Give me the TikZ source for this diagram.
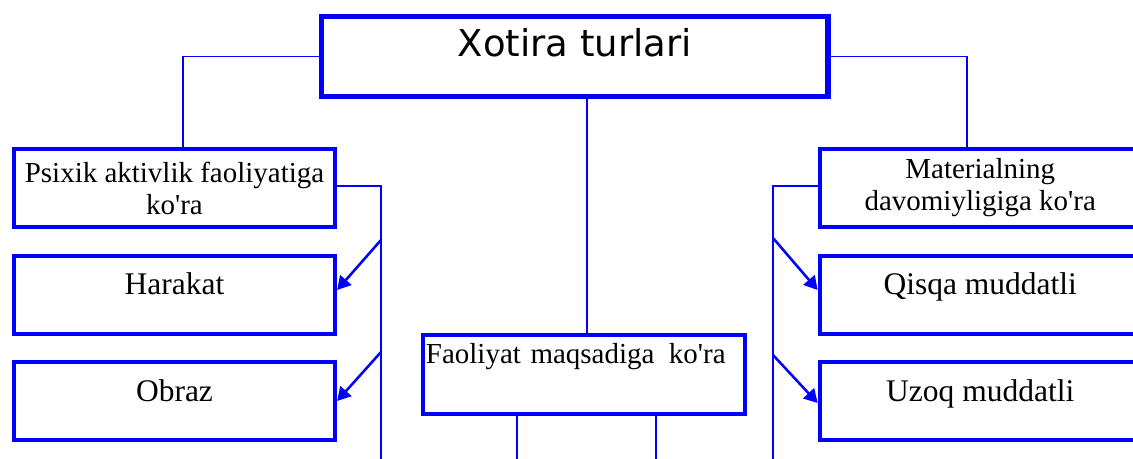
\documentclass[tikz,border=0pt]{standalone}
\usepackage{fontspec}
\setmainfont{Liberation Serif}
\newfontfamily\sarlavhafont{DejaVu Sans}
\usepackage{tikz}
\usetikzlibrary{arrows.meta}
\definecolor{kok}{RGB}{0,0,255}

\begin{document}
\begin{tikzpicture}[x=0.025cm, y=-0.025cm,
  quti/.style={draw=kok, line width=2.8pt, minimum width=8.03cm, minimum height=1.96cm},
  bitta/.style={quti, font=\fontsize{22.4}{26}\selectfont, text height=0.45cm, text depth=0.45cm},
  ikki/.style={quti, font=\fontsize{20.6}{22.8}\selectfont, align=center},
  ulanish/.style={draw=kok, line width=1.4pt},
  strelka/.style={draw=kok, line width=1.8pt, -{Triangle[length=9.5pt,width=10.5pt]}}]
  \useasboundingbox (0,0) rectangle (1133,459);
  \clip (0,0) rectangle (1133,459);

  % Bosh quti
  \node[draw=kok, line width=4pt, minimum width=12.66cm, minimum height=2cm,
        font=\sarlavhafont\fontsize{26.3}{30}\selectfont, text height=0.5cm, text depth=0.5cm]
        (xotira) at (574.75,56.5) {Xotira turlari};

  % Chap ustun
  \node[ikki] (psixik) at (174.5,188) {Psixik aktivlik faoliyatiga\\ko\textquotesingle ra};
  \node[bitta] (harakat) at (174.5,295) {Harakat};
  \node[bitta] (obraz) at (174.5,401) {Obraz};

  % O'rta quti
  \node[quti, font=\fontsize{20.6}{22.8}\selectfont, align=left, text width=7.9cm, inner xsep=0.075cm,
        text height=0.5cm, text depth=1.03cm]
        (faoliyat) at (584,374.5) {Faoliyat maqsadiga\hspace{0.5em}ko\textquotesingle ra};

  % O'ng ustun
  \node[ikki] (material) at (980.25,188) {Materialning\\davomiyligiga ko\textquotesingle ra};
  \node[bitta] (qisqa) at (980.25,295) {Qisqa muddatli};
  \node[bitta] (uzoq) at (980.25,401) {Uzoq muddatli};

  % Bosh qutidan chiqadigan chiziqlar
  \draw[ulanish] (xotira.west) -| ([xshift=0.21cm]psixik.north);
  \draw[ulanish] (xotira.east) -| ([xshift=-0.33cm]material.north);
  \draw[ulanish] ([xshift=0.08cm]faoliyat.north) -- ([xshift=0.08cm]faoliyat.north |- xotira.south);

  % Chap qavs va strelkalar
  \coordinate (chappast) at (381,470);
  \coordinate (c1) at (381,240);
  \coordinate (c2) at (381,352);
  \draw[ulanish] ([yshift=0.06cm]psixik.east) -| (chappast);
  \draw[strelka] (c1) -- ([yshift=0.125cm]harakat.east);
  \draw[strelka] (c2) -- (obraz.east);

  % O'ng qavs va strelkalar
  \coordinate (ongpast) at (773,470);
  \coordinate (o1) at (773,238);
  \coordinate (o2) at (773,355);
  \draw[ulanish] ([yshift=0.06cm]material.west) -| (ongpast);
  \draw[strelka] (o1) -- ([yshift=0.125cm]qisqa.west);
  \draw[strelka] (o2) -- ([yshift=-0.05cm]uzoq.west);

  % O'rta qutidan pastga
  \coordinate (f1) at (516.7,470);
  \coordinate (f2) at (656,470);
  \draw[ulanish] (f1 |- faoliyat.south) -- (f1);
  \draw[ulanish] (f2 |- faoliyat.south) -- (f2);
\end{tikzpicture}
\end{document}
